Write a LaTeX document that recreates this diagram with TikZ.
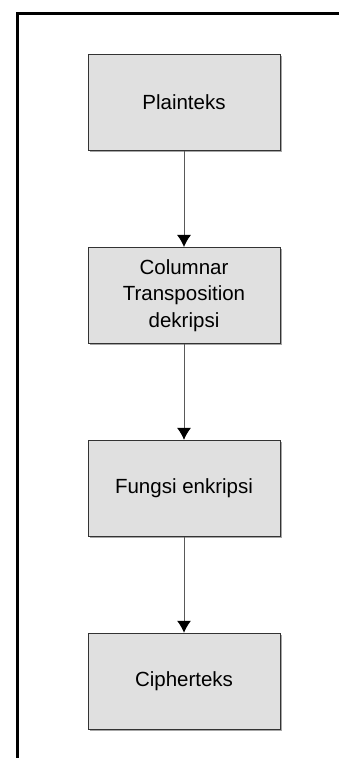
\documentclass[tikz,border=0pt]{standalone}
\usepackage{fontspec}
\setmainfont{Liberation Sans}
\usetikzlibrary{arrows.meta,positioning,shadows}

\begin{document}
\begin{tikzpicture}[>={Latex[length=12pt,width=14pt,black]},x=1pt,y=-1pt]

\definecolor{boxgray}{rgb}{0.878,0.878,0.878}
\definecolor{linegray}{rgb}{0.35,0.35,0.35}

\tikzset{blok/.style={draw=black!80,fill=boxgray,line width=0.9pt,
  minimum width=192pt,minimum height=96pt,inner sep=0pt,align=center,
  font=\fontsize{20.5}{26.5}\selectfont,
  drop shadow={shadow xshift=1.5pt,shadow yshift=-1.5pt,fill=black!35,opacity=1}}}

\useasboundingbox (0,0) rectangle (339,758);

% bingkai
\draw[line width=3pt] (339,13.7)--(17.5,13.7)--(17.5,758);

\node[blok] (plain) at (184,102.5) {Plainteks};
\node[blok,below=96pt of plain] (ctd) {Columnar\\Transposition\\dekripsi};
\node[blok,below=96pt of ctd] (enk) {Fungsi enkripsi};
\node[blok,below=96pt of enk] (cipher) {Cipherteks};

\draw[->,linegray,line width=0.9pt] (plain)--(ctd);
\draw[->,linegray,line width=0.9pt] (ctd)--(enk);
\draw[->,linegray,line width=0.9pt] (enk)--(cipher);

\end{tikzpicture}
\end{document}
